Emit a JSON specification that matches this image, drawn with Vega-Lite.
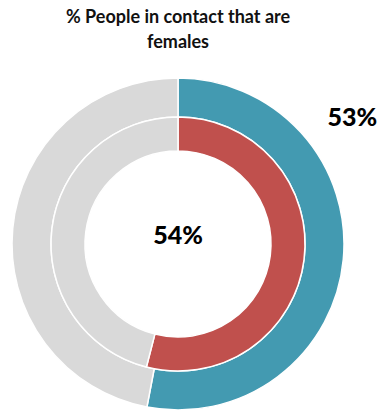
{
  "$schema": "https://vega.github.io/schema/vega-lite/v6.json",
  "autosize": {"type": "none"},
  "padding": {"left": 0, "top": 74, "right": 32, "bottom": 0},
  "width": 356,
  "height": 340,
  "background": "white",
  "view": {"stroke": null},
  "title": {
    "text": ["% People in contact that are", "females"],
    "anchor": "middle",
    "frame": "group",
    "font": "Lato",
    "fontSize": 18,
    "fontWeight": "bold",
    "color": "#111111",
    "lineHeight": 25,
    "baseline": "bottom",
    "offset": 4
  },
  "data": {
    "values": [
      {"ring": "outer", "category": "Outer female", "seq": 1, "value": 53},
      {"ring": "outer", "category": "Outer other", "seq": 2, "value": 47},
      {"ring": "inner", "category": "Inner female", "seq": 1, "value": 54},
      {"ring": "inner", "category": "Inner other", "seq": 2, "value": 46}
    ]
  },
  "encoding": {
    "theta": {"field": "value", "type": "quantitative", "stack": true},
    "order": {"field": "seq", "type": "quantitative"},
    "color": {
      "field": "category",
      "type": "nominal",
      "legend": null,
      "scale": {
        "domain": ["Outer female", "Outer other", "Inner female", "Inner other"],
        "range": ["#439AB1", "#D9D9D9", "#C0504D", "#D9D9D9"]
      }
    }
  },
  "layer": [
    {
      "transform": [{"filter": "datum.ring === 'outer'"}],
      "mark": {"type": "arc", "radius": 166, "radius2": 127, "stroke": "white", "strokeWidth": 1.5}
    },
    {
      "transform": [{"filter": "datum.ring === 'inner'"}],
      "mark": {"type": "arc", "radius": 127, "radius2": 93, "stroke": "white", "strokeWidth": 1.5}
    },
    {
      "transform": [{"filter": "datum.category === 'Inner female'"}],
      "mark": {"type": "text", "font": "Lato", "fontSize": 25, "fontWeight": 900, "color": "black", "dy": -8, "align": "center", "baseline": "middle"},
      "encoding": {
        "theta": null,
        "order": null,
        "color": null,
        "text": {"value": "54%"}
      }
    },
    {
      "transform": [{"filter": "datum.category === 'Outer female'"}],
      "mark": {"type": "text", "font": "Lato", "fontSize": 25, "fontWeight": 900, "color": "black", "align": "center", "baseline": "middle"},
      "encoding": {
        "theta": {"value": 0.946},
        "radius": {"value": 215},
        "order": null,
        "color": null,
        "text": {"value": "53%"}
      }
    }
  ]
}
